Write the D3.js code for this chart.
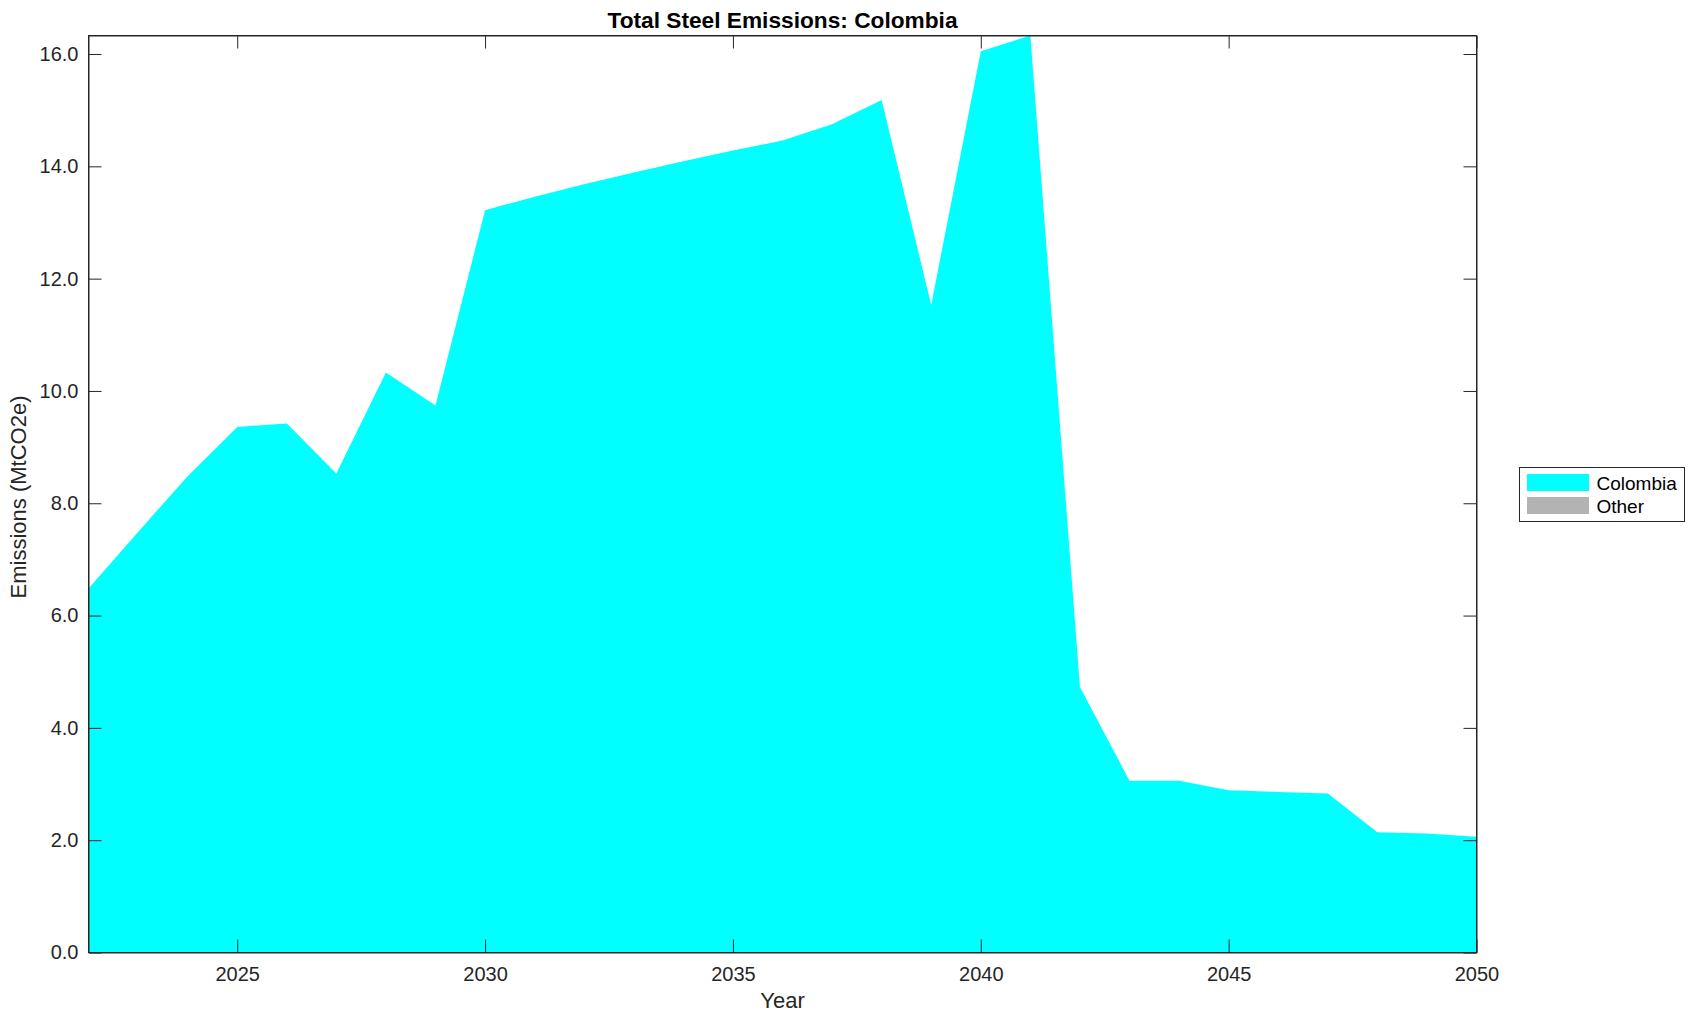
<!DOCTYPE html>
<html>
<head>
<meta charset="utf-8">
<script src="https://cdn.jsdelivr.net/npm/d3@7"></script>
<style>
body { margin: 0; background: #fff; }
text { font-family: "Liberation Sans", Arial, Helvetica, sans-serif; fill: #262626; }
.axis path, .axis line { stroke: #262626; }
</style>
</head>
<body>
<div id="chart"></div>
<script>
var years = [2022, 2023, 2024, 2025, 2026, 2027, 2028, 2029, 2030, 2031,
    2032, 2033, 2034, 2035, 2036, 2037, 2038, 2039, 2040, 2041,
    2042, 2043, 2044, 2045, 2046, 2047, 2048, 2049, 2050];
var colombia = [6.48, 7.49, 8.48, 9.36, 9.42, 8.53, 10.33, 9.74, 13.22, 13.46,
    13.68, 13.89, 14.09, 14.28, 14.46, 14.75, 15.18, 11.53, 16.05, 16.33,
    4.73, 3.06, 3.06, 2.89, 2.86, 2.83, 2.14, 2.12, 2.06];
var other = [0, 0, 0, 0, 0, 0, 0, 0, 0, 0,
    0, 0, 0, 0, 0, 0, 0, 0, 0, 0,
    0, 0, 0, 0, 0, 0, 0, 0, 0];
var seriesNames = ["Colombia", "Other"];
var seriesColors = ["#00ffff", "#b3b3b3"];
var xTicks = [2025, 2030, 2035, 2040, 2045, 2050];
var yTicks = [0, 2, 4, 6, 8, 10, 12, 14, 16];
var chartTitle = "Total Steel Emissions: Colombia";
var xLabel = "Year";
var yLabel = "Emissions (MtCO2e)";

var chart = {
    margin: { top: 35.5, left: 88.5 },
    width: 1388,
    height: 917,
    svg: null,

    initialize: function() {
        var self = this;
        self.svg = d3.select("#chart").append("svg")
            .attr("width", 1695)
            .attr("height", 1021);
        self.draw();
    },

    draw: function() {
        var self = this;
        var tickLen = 13;

        var rows = years.map(function(y, i) {
            return { year: y, Colombia: colombia[i], Other: other[i] };
        });
        var stacked = d3.stack().keys(seriesNames)(rows);

        var x = d3.scaleLinear()
            .domain([years[0], years[years.length - 1]])
            .range([0, self.width]);
        var y = d3.scaleLinear()
            .domain([0, d3.max(rows, function(d) { return d.Colombia + d.Other; })])
            .range([self.height, 0]);

        var g = self.svg.append("g")
            .attr("transform", "translate(" + self.margin.left + "," + self.margin.top + ")");

        var area = d3.area()
            .x(function(d) { return x(d.data.year); })
            .y0(function(d) { return y(d[0]); })
            .y1(function(d) { return y(d[1]); });

        g.selectAll(".layer")
            .data(stacked)
            .enter().append("path")
            .attr("class", "layer")
            .attr("fill", function(d, i) { return seriesColors[i]; })
            .attr("d", area);

        // bottom + left axes with labels, top + right with ticks only (box on)
        var xAxis = d3.axisBottom(x).tickValues(xTicks).tickSizeInner(-tickLen)
            .tickSizeOuter(0).tickPadding(14).tickFormat(d3.format("d"));
        var xAxisTop = d3.axisTop(x).tickValues(xTicks).tickSizeInner(-tickLen)
            .tickSizeOuter(0).tickFormat("");
        var yAxis = d3.axisLeft(y).tickValues(yTicks).tickSizeInner(-tickLen)
            .tickSizeOuter(0).tickPadding(10).tickFormat(d3.format(".1f"));
        var yAxisRight = d3.axisRight(y).tickValues(yTicks).tickSizeInner(-tickLen)
            .tickSizeOuter(0).tickFormat("");

        g.append("g").attr("class", "axis")
            .attr("transform", "translate(0," + self.height + ")")
            .call(xAxis);
        g.append("g").attr("class", "axis").call(xAxisTop);
        g.append("g").attr("class", "axis").call(yAxis);
        g.append("g").attr("class", "axis")
            .attr("transform", "translate(" + self.width + ",0)")
            .call(yAxisRight);

        g.selectAll(".axis text")
            .style("font-size", "20px")
            .attr("fill", "#262626");

        g.append("rect")
            .attr("width", self.width)
            .attr("height", self.height)
            .attr("fill", "none")
            .attr("stroke", "#262626")
            .attr("stroke-width", 1);

        // title and axis labels
        self.svg.append("text")
            .attr("x", self.margin.left + self.width / 2)
            .attr("y", 28)
            .attr("text-anchor", "middle")
            .style("font-size", "22.7px")
            .style("font-weight", "bold")
            .style("fill", "#000")
            .text(chartTitle);

        self.svg.append("text")
            .attr("x", self.margin.left + self.width / 2)
            .attr("y", 1008)
            .attr("text-anchor", "middle")
            .style("font-size", "22px")
            .text(xLabel);

        self.svg.append("text")
            .attr("transform", "translate(26," + (self.margin.top + self.height / 2 + 3) + ") rotate(-90)")
            .attr("text-anchor", "middle")
            .style("font-size", "22px")
            .text(yLabel);

        // legend
        var legend = self.svg.append("g")
            .attr("transform", "translate(1519.5,467.5)");
        legend.append("rect")
            .attr("width", 165)
            .attr("height", 54)
            .attr("fill", "#fff")
            .attr("stroke", "#262626");
        var items = legend.selectAll(".item")
            .data(seriesNames)
            .enter().append("g")
            .attr("class", "item")
            .attr("transform", function(d, i) { return "translate(0," + (i * 23) + ")"; });
        items.append("rect")
            .attr("x", 7.5)
            .attr("y", 6.5)
            .attr("width", 62)
            .attr("height", 17)
            .attr("fill", function(d, i) { return seriesColors[i]; });
        items.append("text")
            .attr("x", 77)
            .attr("y", 22)
            .style("font-size", "19px")
            .style("fill", "#000")
            .text(function(d) { return d; });
    }
};

chart.initialize();
</script>
</body>
</html>
